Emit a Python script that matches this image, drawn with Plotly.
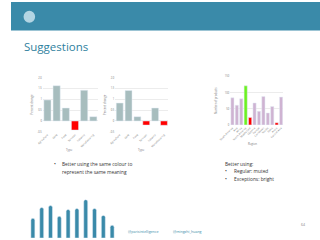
import plotly.graph_objects as go

W, H = 320, 240

# ---- data ----
cats_a = ["Agriculture", "Gold", "Food", "Services", "Industry", "Manufacturing"]
vals_1 = [0.97, 1.63, 0.6, -0.42, 1.42, 0.2]
vals_2 = [0.83, 1.41, 0.2, -0.19, 0.6, -0.2]
y_ticks_a = [-0.5, 0, 0.5, 1, 1.5, 2]
y_ticklabels_a = ["-0.5", "0", "0.5", "1", "1.5", "2.0"]

cats_b = ["South America", "Asia", "Africa", "North America", "Middle East", "Oceania",
          "Europe", "Caribbean", "Nordic", "Baltic", "Arctic", "Central Asia"]
vals_3 = [84, 61, 81, 121, 23, 68, 42, 88, 37, 57, 7, 86]
y_ticks_b = [0, 50, 100, 150]

decor_vals = [20, 31, 33, 22, 29, 30, 39, 30, 23, 13]

GREY = "#a7bdbe"
RED = "#ff0000"
PURPLE = "#cfb3d2"
GREEN = "#6cf21f"
TEAL = "#3a8aa9"

def colors_a(vals):
    return [RED if v < 0 else GREY for v in vals]

colors_b = [PURPLE] * len(vals_3)
colors_b[3] = GREEN
colors_b[4] = RED
colors_b[10] = RED

def px(x):
    return x / W

def py(y):
    return 1 - y / H

fig = go.Figure()
fig.add_trace(go.Bar(x=cats_a, y=vals_1, marker_color=colors_a(vals_1), width=0.78,
                     xaxis="x", yaxis="y", showlegend=False))
fig.add_trace(go.Bar(x=cats_a, y=vals_2, marker_color=colors_a(vals_2), width=0.78,
                     xaxis="x2", yaxis="y2", showlegend=False))
fig.add_trace(go.Bar(x=cats_b, y=vals_3, marker_color=colors_b, width=0.72,
                     xaxis="x3", yaxis="y3", showlegend=False))
fig.add_trace(go.Bar(x=list(range(len(decor_vals))), y=decor_vals, marker_color="#3a8aa9",
                     marker_cornerradius=2, width=0.45, xaxis="x4", yaxis="y4", showlegend=False))

tickfont = dict(size=2.6, color="#777777", family="Open Sans")
titlefont = dict(size=2.8, color="#777777", family="Open Sans")

def yax(dom, rng, ticks, labels=None):
    d = dict(domain=dom, range=rng, tickvals=ticks, showgrid=True, gridcolor="#ececec",
             gridwidth=0.6, zeroline=False, showline=False, tickfont=tickfont, ticks="",
             fixedrange=True)
    if labels:
        d["ticktext"] = labels
    return d

def xax(dom):
    return dict(domain=dom, showgrid=False, zeroline=False, showline=False, tickangle=-45,
                tickfont=tickfont, ticks="", fixedrange=True)

ydom_a = [py(132), py(77)]
fig.update_layout(
    width=W, height=H, margin=dict(l=0, r=0, t=0, b=0),
    paper_bgcolor="white", plot_bgcolor="white",
    xaxis=dict(xax([px(33), px(90)]), anchor="y"),
    yaxis=dict(yax(ydom_a, [-0.5, 2.0], y_ticks_a, y_ticklabels_a), anchor="x"),
    xaxis2=dict(xax([px(108), px(163)]), anchor="y2"),
    yaxis2=dict(yax(ydom_a, [-0.5, 2.0], y_ticks_a, y_ticklabels_a), anchor="x2"),
    xaxis3=dict(xax([px(227), px(282)]), anchor="y3"),
    yaxis3=dict(yax([py(125), py(75.7)], [0, 150], y_ticks_b), anchor="x3"),
    xaxis4=dict(domain=[px(18.1), px(109.3)], range=[-0.5, 9.5], visible=False, anchor="y4",
                fixedrange=True),
    yaxis4=dict(domain=[0, py(190)], range=[0, 50], visible=False, anchor="x4", fixedrange=True),
)

shapes = [
    dict(type="rect", xref="paper", yref="paper", x0=0, x1=1, y0=py(29), y1=1,
         fillcolor=TEAL, line_width=0, layer="below"),
    dict(type="circle", xref="paper", yref="paper", x0=px(13), x1=px(25), y0=py(21), y1=py(9),
         fillcolor="#b3d5e3", line_width=0),
]
fig.update_layout(shapes=shapes)

def ann(x, y, text, size=5, color="#333333", xanchor="left", angle=0, family="Open Sans"):
    fig.add_annotation(x=px(x), y=py(y), xref="paper", yref="paper", text=text,
                       showarrow=False, xanchor=xanchor, yanchor="middle", textangle=angle,
                       font=dict(size=size, color=color, family=family))

ann(11, 45, "Suggestions", size=11.5, color="#2f7f9e", family="Open Sans")

# axis titles for small charts
ann(61, 150, "Type", size=2.8, color="#777777", xanchor="center")
ann(135, 150, "Type", size=2.8, color="#777777", xanchor="center")
ann(250, 144, "Region", size=2.8, color="#777777", xanchor="center")
ann(22, 104, "Percent change", size=2.8, color="#777777", xanchor="center", angle=-90)
ann(98, 104, "Percent change", size=2.8, color="#777777", xanchor="center", angle=-90)
ann(213, 100, "Number of products", size=2.8, color="#777777", xanchor="center", angle=-90)

# bullet texts
ann(42, 165, "•", size=5)
ann(51, 165, "Better using the same colour to", size=4.8)
ann(51, 172.5, "represent the same meaning", size=4.8)
ann(219.5, 165, "Better using:", size=4.8)
ann(219.5, 172, "•", size=5)
ann(229, 172, "Regular: muted", size=4.8)
ann(219.5, 179.5, "•", size=5)
ann(229, 179.5, "Exceptions: bright", size=4.8)

# footer
ann(119.5, 233, "@parisintelligence", size=3.6, color="#3a8aa9")
ann(165.5, 233, "@mingzhi_huang", size=3.6, color="#3a8aa9")
ann(298, 226, "64", size=3.6, color="#888888")

fig.write_html("out.html")
